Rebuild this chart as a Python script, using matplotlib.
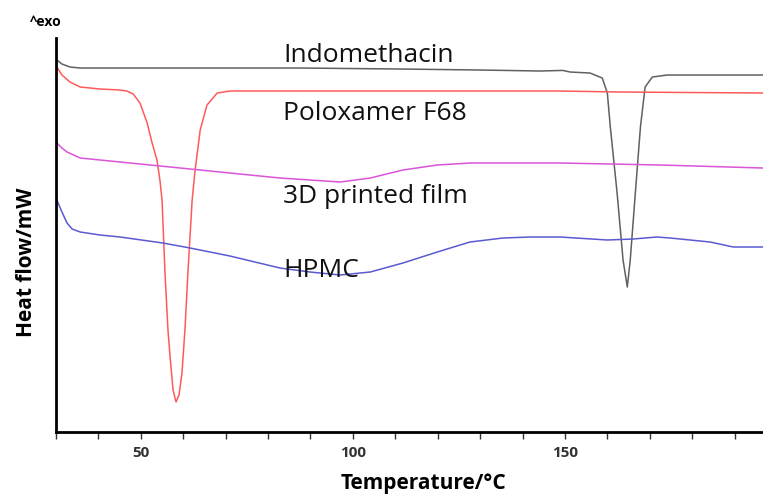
import matplotlib.pyplot as plt
from matplotlib.ticker import MultipleLocator, FuncFormatter

plt.rcParams['font.family'] = ['Open Sans', 'DejaVu Sans']

# DSC thermograms (temperature in °C, heat flow in arbitrary mW units)
indo_t = [30.2, 31.4, 33.3, 35.7, 52.2, 87.5, 111.1, 130.0, 144.2, 149.5, 151.2, 155.9, 158.8,
          160.0, 160.7, 162.3, 163.7, 164.7, 165.4, 166.6, 167.8, 168.9, 170.6, 174.1, 196.7]
indo_v = [9.30, 9.20, 9.125, 9.10, 9.10, 9.10, 9.075, 9.05, 9.025, 9.04, 9.00, 8.975, 8.85,
          8.475, 7.625, 5.975, 4.30, 3.625, 4.30, 5.975, 7.625, 8.625, 8.875, 8.925, 8.925]

polox_t = [30.2, 31.4, 33.3, 35.7, 40.4, 45.1, 46.7, 48.2, 49.8, 51.5, 52.6, 53.8, 54.5, 55.0,
           55.7, 56.4, 56.9, 57.6, 58.3, 59.0, 59.7, 60.4, 61.1, 62.1, 62.8, 64.0, 65.6, 68.0,
           71.0, 111.1, 148.9, 163.0, 196.7]
polox_v = [9.125, 8.925, 8.75, 8.625, 8.575, 8.55, 8.525, 8.45, 8.225, 7.725, 7.25, 6.80,
           6.30, 5.80, 3.975, 2.55, 1.875, 1.05, 0.75, 0.925, 1.475, 2.55, 3.975, 5.80, 6.55,
           7.55, 8.175, 8.475, 8.525, 8.525, 8.525, 8.50, 8.475]

film_t = [30.2, 31.4, 32.6, 35.7, 40.4, 52.2, 64.0, 71.0, 82.8, 97.0, 104.1, 111.8, 119.9,
          127.6, 148.9, 172.5, 196.7]
film_v = [7.225, 7.10, 7.00, 6.85, 6.80, 6.675, 6.55, 6.475, 6.35, 6.25, 6.35, 6.55, 6.675,
          6.725, 6.725, 6.675, 6.60]

hpmc_t = [30.2, 31.4, 32.6, 33.8, 35.7, 40.4, 45.1, 55.2, 61.6, 71.0, 82.8, 89.9, 97.0, 104.1,
          111.8, 119.9, 127.6, 135.4, 141.8, 148.9, 160.0, 166.1, 171.7, 174.8, 179.5, 184.2,
          189.7, 196.7]
hpmc_v = [5.80, 5.50, 5.225, 5.075, 5.00, 4.925, 4.875, 4.725, 4.60, 4.40, 4.10, 4.00, 3.925,
          4.00, 4.225, 4.50, 4.75, 4.85, 4.875, 4.875, 4.80, 4.825, 4.875, 4.85, 4.80, 4.75,
          4.625, 4.625]

fig = plt.figure(figsize=(7.63, 4.97), dpi=100)
ax = fig.add_axes([0.0734, 0.1308, 0.9266, 0.7927])

ax.plot(indo_t, indo_v, color='#606060', lw=1.1)
ax.plot(polox_t, polox_v, color='#ff5a5a', lw=1.1)
ax.plot(film_t, film_v, color='#d955d9', lw=1.1)
ax.plot(hpmc_t, hpmc_v, color='#5a5ad2', lw=1.1)

ax.set_xlim(30, 196.7)
ax.set_ylim(0, 9.85)

# curve names
ax.text(83.5, 9.42, 'Indomethacin', fontsize=19, va='center', color='#111111')
ax.text(83.5, 7.97, 'Poloxamer F68', fontsize=19, va='center', color='#111111')
ax.text(83.5, 5.88, '3D printed film', fontsize=19, va='center', color='#111111')
ax.text(83.5, 4.05, 'HPMC', fontsize=19, va='center', color='#111111')

for s in ['top', 'right']:
    ax.spines[s].set_visible(False)
ax.spines['left'].set_linewidth(2)
ax.spines['bottom'].set_linewidth(2)

ax.set_yticks([])
ax.xaxis.set_major_locator(MultipleLocator(10))
ax.xaxis.set_major_formatter(FuncFormatter(lambda v, p: '%d' % v if round(v) in (50, 100, 150) else ''))
ax.tick_params(axis='x', direction='out', length=5, width=1, colors='#333333',
               labelsize=11, pad=5)
for lab in ax.get_xticklabels():
    lab.set_fontweight('bold')

ax.set_xlabel('Temperature/°C', fontsize=15, fontweight='bold')
ax.xaxis.set_label_coords(0.52, -0.105)
ax.set_ylabel('Heat flow/mW', fontsize=15, fontweight='bold')
ax.yaxis.set_label_coords(-0.027, 0.43)
fig.text(0.039, 0.955, '^exo', fontsize=10, fontweight='bold', va='center')

plt.savefig('out.png', dpi=100)
